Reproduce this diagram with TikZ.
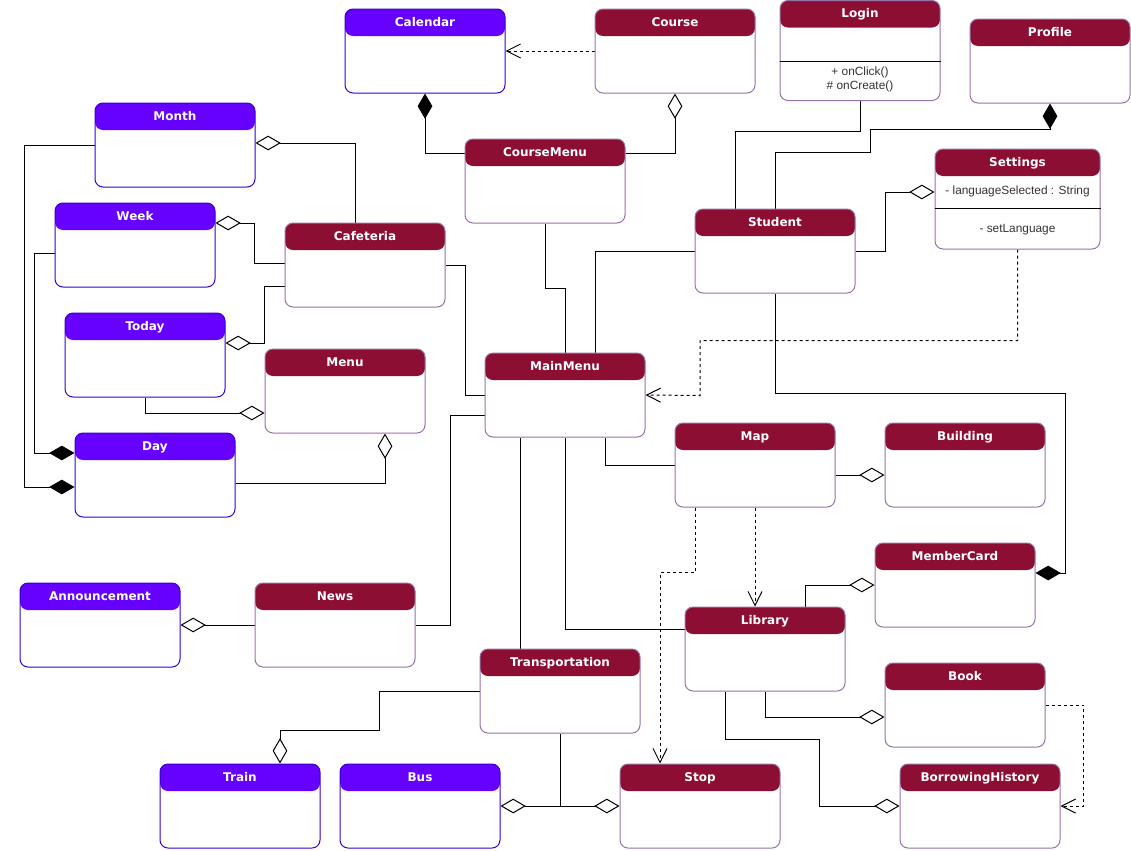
\documentclass[tikz,border=0pt]{standalone}
\usepackage{fontspec}
\setmainfont{Liberation Sans}
\newfontfamily\titlefont{DejaVu Sans}
\usetikzlibrary{arrows.meta}
\pgfdeclarelayer{edgelayer}
\pgfdeclarelayer{nodelayer}
\pgfsetlayers{edgelayer,nodelayer,main}
\definecolor{classred}{HTML}{8C0E33}
\definecolor{classblue}{HTML}{6600FF}
\definecolor{redborder}{HTML}{9673A6}
\definecolor{blueborder}{HTML}{3700CC}
\newcommand{\classtitle}{\titlefont\bfseries\fontsize{9}{10}\selectfont}
\tikzstyle{classbox}=[rectangle,rounded corners=6pt,fill=white,line width=0.75pt,minimum width=120pt,inner sep=0pt,text height=13pt,text depth=50pt,text=white,font=\classtitle]
\tikzstyle{redclass}=[classbox,draw=redborder,path picture={\fill[classred] (path picture bounding box.north west) rectangle ([yshift=-20.25pt]path picture bounding box.north east);}]
\tikzstyle{blueclass}=[classbox,draw=blueborder,path picture={\fill[classblue] (path picture bounding box.north west) rectangle ([yshift=-20.25pt]path picture bounding box.north east);}]
\tikzstyle{tallclass}=[text depth=62pt]
\tikzstyle{optext}=[font=\fontsize{8.9}{10.5}\selectfont,text=black!80,align=center,inner sep=0pt]
\tikzstyle{assoc}=[line width=0.75pt,draw=black]
\tikzstyle{agg}=[assoc,-{Diamond[open,length=19pt,width=11pt]}]
\tikzstyle{compo}=[assoc,-{Diamond[length=19pt,width=11pt]}]
\tikzstyle{dep}=[assoc,dash pattern=on 2.25pt off 2.25pt,-{Straight Barb[length=10.5pt,width=10.5pt]}]

\begin{document}
\begin{tikzpicture}[x=0.75pt,y=-0.75pt]
	\useasboundingbox (0,0) rectangle (1131,850);
	\begin{pgfonlayer}{nodelayer}
		\node [style=blueclass] (calendar) at (425, 51) {Calendar};
		\node [style=redclass] (course) at (675, 51) {Course};
		\node [style=redclass, style=tallclass] (login) at (860, 50.5) {Login};
		\node [style=redclass] (profile) at (1050, 61) {Profile};
		\node [style=blueclass] (month) at (175, 145) {Month};
		\node [style=redclass] (coursemenu) at (545, 181) {CourseMenu};
		\node [style=redclass, style=tallclass, minimum width=123.75pt] (settings) at (1017.5, 199) {Settings};
		\node [style=blueclass] (week) at (135, 245) {Week};
		\node [style=redclass] (student) at (775, 251) {Student};
		\node [style=redclass] (cafeteria) at (365, 265) {Cafeteria};
		\node [style=blueclass] (today) at (145, 355) {Today};
		\node [style=redclass] (menu) at (345, 391) {Menu};
		\node [style=redclass] (mainmenu) at (565, 395) {MainMenu};
		\node [style=redclass] (map) at (755, 465) {Map};
		\node [style=redclass] (building) at (965, 465) {Building};
		\node [style=blueclass] (day) at (155, 475) {Day};
		\node [style=redclass] (membercard) at (955, 585) {MemberCard};
		\node [style=blueclass] (announcement) at (100, 625) {Announcement};
		\node [style=redclass] (news) at (335, 625) {News};
		\node [style=redclass] (library) at (765, 649) {Library};
		\node [style=redclass] (transportation) at (560, 691) {Transportation};
		\node [style=redclass] (book) at (965, 705) {Book};
		\node [style=blueclass] (train) at (240, 806) {Train};
		\node [style=blueclass] (bus) at (420, 806) {Bus};
		\node [style=redclass] (stop) at (700, 806) {Stop};
		\node [style=redclass] (history) at (980, 806) {BorrowingHistory};
	\end{pgfonlayer}
	\begin{pgfonlayer}{edgelayer}
		% top row
		\draw [style=dep] (course.west) to (calendar.east);
		\draw [style=compo] ([yshift=21pt]coursemenu.west) -| (calendar.south);
		\draw [style=agg] ([yshift=21pt]coursemenu.east) -| (course.south);
		\draw [style=assoc] (login.south) -- ++(0,30) -| ([xshift=-30pt]student.north);
		\draw [style=compo] (student.north) -- ++(0,-56) -| ++(95,-23) -| (profile.south);
		\draw [style=agg] (student.east) -- ++(30,0) |- ([yshift=5.25pt]settings.west);
		\draw [style=dep] (settings.south) -- ++(0,91) -| ++(-317.5,55) -- (mainmenu.east);
		% main menu
		\draw [style=assoc] (student.west) -| ([xshift=22.5pt]mainmenu.north);
		\draw [style=assoc] (coursemenu.south) -- ++(0,65) -| (mainmenu.north);
		\draw [style=compo] (student.south) -- ++(0,100) -- ++(290,0) |- ([yshift=9pt]membercard.east);
		\draw [style=assoc] (cafeteria.east) -- ++(20,0) |- (mainmenu.west);
		\draw [style=assoc] (news.east) -- ++(35,0) |- ([yshift=-15pt]mainmenu.west);
		\draw [style=assoc] ([xshift=-33.75pt]mainmenu.south) -- ([xshift=-30pt]transportation.north);
		\draw [style=assoc] (mainmenu.south) |- ([yshift=15pt]library.west);
		\draw [style=assoc] ([xshift=30pt]mainmenu.south) |- (map.west);
		% calendar parts
		\draw [style=agg] ([xshift=-7.5pt]cafeteria.north) |- ([yshift=1.5pt]month.east);
		\draw [style=agg] ([yshift=1.5pt]cafeteria.west) -- ++(-30,0) |- ([yshift=16.5pt]week.east);
		\draw [style=agg] ([yshift=-15.75pt]cafeteria.west) -- ++(-20,0) |- ([yshift=9pt]today.east);
		\draw [style=agg] (today.south) |- ([yshift=-16.5pt]menu.west);
		\draw [style=agg] ([yshift=-6pt]day.east) -| ([xshift=30pt]menu.south);
		\draw [style=compo] (month.west) -- ++(-70,0) |- ([yshift=-9pt]day.west);
		\draw [style=compo] ([yshift=-6pt]week.west) -- ++(-20,0) |- ([yshift=16.5pt]day.west);
		% map and library
		\draw [style=agg] ([yshift=-7.5pt]map.east) -- ([yshift=-7.5pt]building.west);
		\draw [style=dep] (map.south) -- ([xshift=-7.5pt]library.north);
		\draw [style=dep] ([xshift=-45pt]map.south) -- ++(0,65) -| ([xshift=-30pt]stop.north);
		\draw [style=agg] ([xshift=30pt]library.north) |- (membercard.west);
		\draw [style=agg] (library.south) |- ([yshift=-9pt]book.west);
		\draw [style=agg] ([xshift=-30pt]library.south) -- ++(0,48) -| ([xshift=-60pt]history.west) -- (history.west);
		\draw [style=dep] (book.east) -- ++(38,0) |- (history.east);
		% news and transport
		\draw [style=agg] (news.west) -- (announcement.east);
		\draw [style=agg] (transportation.west) -- ++(-100,0) -- ++(0,39) -| ([xshift=30pt]train.north);
		\draw [style=agg] (transportation.south) |- (bus.east);
		\draw [style=agg] (transportation.south) |- (stop.west);
	\end{pgfonlayer}
	% compartments
	\draw [line width=0.75pt] ([yshift=-45.75pt]login.north west) -- ([yshift=-45.75pt]login.north east);
	\node [style=optext] (loginops) at ([yshift=-59.5pt]login.north) {+ onClick()\\\# onCreate()};
	\node [style=optext] (settingsattr) at ([yshift=-32.25pt]settings.north) {- languageSelected : String};
	\draw [line width=0.75pt] ([yshift=-45pt]settings.north west) -- ([yshift=-45pt]settings.north east);
	\node [style=optext] (settingsops) at ([yshift=-60.5pt]settings.north) {- setLanguage};
\end{tikzpicture}
\end{document}
